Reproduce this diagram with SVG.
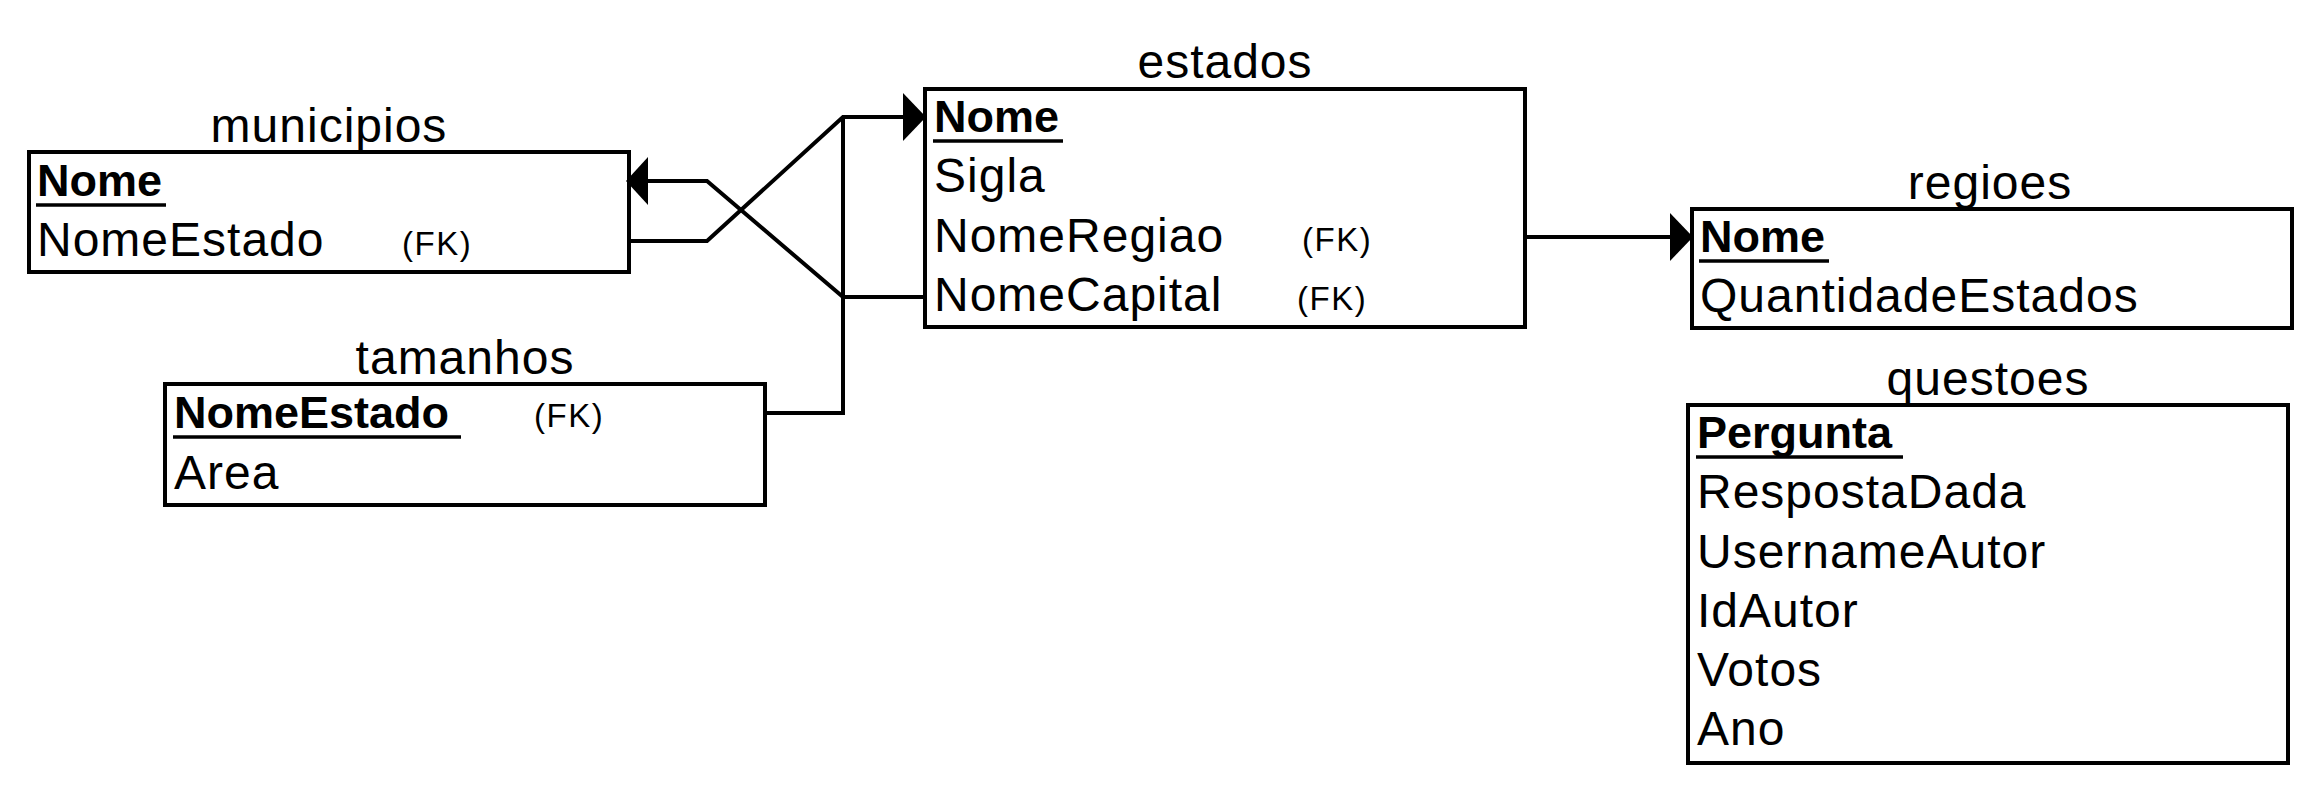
<svg xmlns="http://www.w3.org/2000/svg" width="2320" height="792" viewBox="0 0 2320 792">
<style>
.bg{fill:#fff}
.box{fill:#fff;stroke:#000;stroke-width:4}
.t{font-family:"Liberation Sans",Arial,sans-serif;font-size:48px;letter-spacing:1px;fill:#000}
.title{text-anchor:middle}
.pk{font-weight:bold;font-size:45px;letter-spacing:0px}
.fk{font-size:33px;letter-spacing:1.5px}
.ul{stroke:#000;stroke-width:3.5}
.conn{fill:none;stroke:#000;stroke-width:4;stroke-linejoin:miter}
.head{fill:#000;stroke:none}
</style>
<rect class="bg" x="0" y="0" width="2320" height="792"/>

<g id="municipios">
<text class="t title" x="329" y="142">municipios</text>
<rect class="box" x="29" y="152" width="600" height="120"/>
<text class="t pk" x="37" y="196">Nome</text>
<line class="ul" x1="36" y1="205" x2="166" y2="205"/>
<text class="t" x="37" y="256">NomeEstado</text>
<text class="t fk" x="402" y="255">(FK)</text>
</g>

<g id="tamanhos">
<text class="t title" x="465" y="374">tamanhos</text>
<rect class="box" x="165" y="384" width="600" height="121"/>
<text class="t pk" x="174" y="428">NomeEstado</text>
<line class="ul" x1="173" y1="437" x2="461" y2="437"/>
<text class="t fk" x="534" y="427">(FK)</text>
<text class="t" x="174" y="489">Area</text>
</g>

<g id="estados">
<text class="t title" x="1225" y="78">estados</text>
<rect class="box" x="925" y="89" width="600" height="238"/>
<text class="t pk" x="934" y="132">Nome</text>
<line class="ul" x1="933" y1="141" x2="1063" y2="141"/>
<text class="t" x="934" y="192">Sigla</text>
<text class="t" x="934" y="252">NomeRegiao</text>
<text class="t fk" x="1302" y="251">(FK)</text>
<text class="t" x="934" y="311">NomeCapital</text>
<text class="t fk" x="1297" y="310">(FK)</text>
</g>

<g id="regioes">
<text class="t title" x="1990" y="199">regioes</text>
<rect class="box" x="1692" y="209" width="600" height="119"/>
<text class="t pk" x="1700" y="252">Nome</text>
<line class="ul" x1="1699" y1="261" x2="1829" y2="261"/>
<text class="t" x="1700" y="312">QuantidadeEstados</text>
</g>

<g id="questoes">
<text class="t title" x="1988" y="395">questoes</text>
<rect class="box" x="1688" y="405" width="600" height="358"/>
<text class="t pk" x="1697" y="448">Pergunta</text>
<line class="ul" x1="1696" y1="457" x2="1903" y2="457"/>
<text class="t" x="1697" y="508">RespostaDada</text>
<text class="t" x="1697" y="568">UsernameAutor</text>
<text class="t" x="1697" y="627">IdAutor</text>
<text class="t" x="1697" y="686">Votos</text>
<text class="t" x="1697" y="745">Ano</text>
</g>

<g id="connectors">
<path class="conn" d="M629,241 H707 L843,117 H904"/>
<polygon class="head" points="903,93 926,117 903,141"/>
<path class="conn" d="M925,297 H843 L707,181 H646"/>
<polygon class="head" points="648,157 626,181 648,205"/>
<path class="conn" d="M765,413 H843 V117"/>
<path class="conn" d="M1525,237 H1671"/>
<polygon class="head" points="1670,213 1693,237 1670,261"/>
</g>
</svg>
